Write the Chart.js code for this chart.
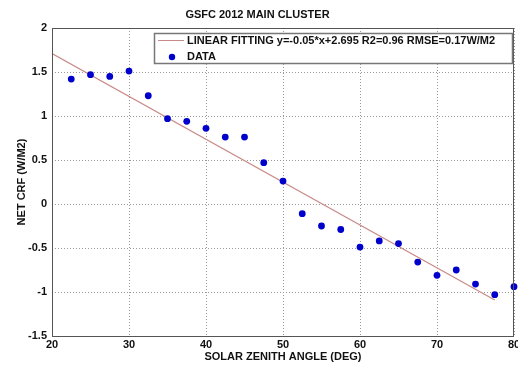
<!DOCTYPE html>
<html>
<head>
<meta charset="utf-8">
<script src="https://cdn.jsdelivr.net/npm/chart.js@4"></script>
<style>
  html, body { margin: 0; padding: 0; background: #fff; }
  #wrap { width: 518px; height: 367px; }
</style>
</head>
<body>
<div id="wrap"><canvas id="crfChart"></canvas></div>
<script>
// data
var zenith = [22.5, 25, 27.5, 30, 32.5, 35, 37.5, 40, 42.5, 45, 47.5, 50,
              52.5, 55, 57.5, 60, 62.5, 65, 67.5, 70, 72.5, 75, 77.5, 80];
var netCrf = [1.42, 1.47, 1.45, 1.51, 1.23, 0.97, 0.94, 0.86, 0.76, 0.76, 0.47, 0.26,
              -0.11, -0.25, -0.29, -0.49, -0.42, -0.45, -0.66, -0.81, -0.75, -0.91, -1.03, -0.94];
var fitX = [20, 77.5];
var fitY = [1.71, -1.09];

var fitLabel = 'LINEAR FITTING y=-0.05*x+2.695 R2=0.96 RMSE=0.17W/M2';
var dataLabel = 'DATA';

var xTicks = [20, 30, 40, 50, 60, 70, 80];
var yTicks = [-1.5, -1, -0.5, 0, 0.5, 1, 1.5, 2];

var boldFont = { family: 'Liberation Sans, Arial, sans-serif', size: 11, weight: 'bold' };

function pairs(xs, ys) {
    return xs.map(function (x, i) { return { x: x, y: ys[i] }; });
}

////////// frame + legend box (matlab style)

var matlabBox = {
    id: 'matlabBox',
    afterDraw: function (chart) {
        var ctx = chart.ctx;
        var a = chart.chartArea;
        ctx.save();
        ctx.strokeStyle = '#555';
        ctx.lineWidth = 1;
        ctx.strokeRect(a.left + 0.5, a.top + 0.5, a.right - a.left - 1, a.bottom - a.top);

        // legend
        var bx = 154, by = 33, bw = 358, bh = 30;
        ctx.fillStyle = '#fff';
        ctx.fillRect(bx, by, bw, bh);
        ctx.strokeStyle = '#777';
        ctx.lineWidth = 1.5;
        ctx.strokeRect(bx + 0.5, by + 0.5, bw, bh);

        var ds = chart.data.datasets;
        ctx.strokeStyle = ds[0].borderColor;
        ctx.lineWidth = 1;
        ctx.beginPath();
        ctx.moveTo(158, 40.5);
        ctx.lineTo(184, 40.5);
        ctx.stroke();

        ctx.fillStyle = ds[1].backgroundColor;
        ctx.beginPath();
        ctx.arc(172, 57, 3.2, 0, Math.PI * 2);
        ctx.fill();

        ctx.fillStyle = '#111';
        ctx.font = 'bold 11px Liberation Sans, Arial, sans-serif';
        ctx.textBaseline = 'middle';
        ctx.fillText(ds[0].label, 187, 41);
        ctx.fillText(ds[1].label, 187, 57);
        ctx.restore();
    }
};

new Chart(document.getElementById('crfChart'), {
    type: 'scatter',
    data: {
        datasets: [{
            label: fitLabel,
            data: pairs(fitX, fitY),
            showLine: true,
            borderColor: '#c88a86',
            borderWidth: 1.2,
            pointRadius: 0,
            order: 2
        }, {
            label: dataLabel,
            data: pairs(zenith, netCrf),
            backgroundColor: '#0000cc',
            borderColor: '#0000cc',
            pointRadius: 3.4,
            pointBorderWidth: 0,
            clip: false,
            order: 1
        }]
    },
    options: {
        responsive: true,
        maintainAspectRatio: false,
        animation: false,
        layout: { padding: { left: 0, right: 3, top: 0, bottom: 0 } },
        plugins: {
            legend: { display: false },
            tooltip: { enabled: false },
            title: {
                display: true,
                text: 'GSFC 2012 MAIN CLUSTER',
                color: '#111',
                font: boldFont,
                padding: { top: 8.4, bottom: 6.4 }
            }
        },
        scales: {
            x: {
                type: 'linear',
                min: 20, max: 80,
                afterBuildTicks: function (s) { s.ticks = xTicks.map(function (v) { return { value: v }; }); },
                afterFit: function (s) { s.height = 31; s.paddingRight = 0; s.paddingLeft = 0; },
                ticks: { color: '#111', font: boldFont, padding: 2, maxRotation: 0, autoSkip: false,
                         callback: function (v) { return String(v); } },
                grid: { color: '#999', drawTicks: false, lineWidth: 1, borderDash: [1, 2] },
                border: { display: false, dash: [1, 2] },
                title: {
                    display: true,
                    text: 'SOLAR ZENITH ANGLE (DEG)',
                    color: '#111',
                    font: boldFont,
                    padding: { top: 0, bottom: 3.4 }
                }
            },
            y: {
                min: -1.5, max: 2,
                afterBuildTicks: function (s) { s.ticks = yTicks.map(function (v) { return { value: v }; }); },
                afterFit: function (s) { s.width = 52; },
                ticks: { color: '#111', font: boldFont, padding: 5, autoSkip: false,
                         callback: function (v) { return String(v); } },
                grid: { color: '#999', drawTicks: false, lineWidth: 1, borderDash: [1, 2] },
                border: { display: false, dash: [1, 2] },
                title: {
                    display: true,
                    text: 'NET CRF (W/M2)',
                    color: '#111',
                    font: boldFont,
                    padding: { top: 15, bottom: 0 }
                }
            }
        }
    },
    plugins: [matlabBox]
});
</script>
</body>
</html>
